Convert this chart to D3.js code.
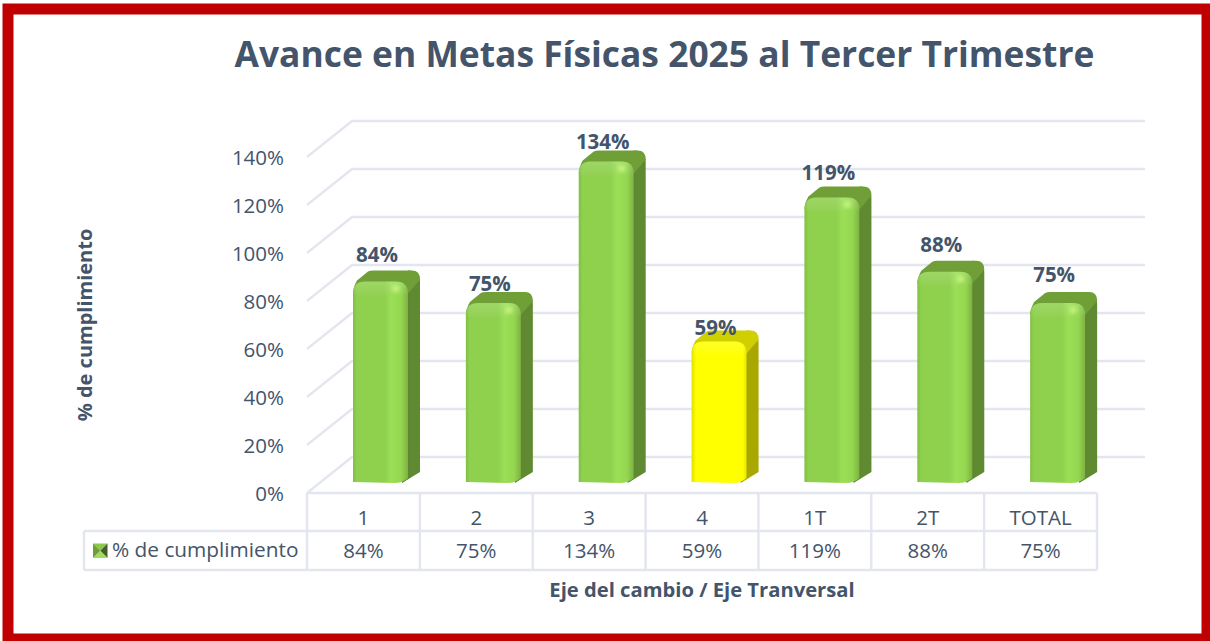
<!DOCTYPE html>
<html>
<head>
<meta charset="utf-8">
<script src="https://cdn.jsdelivr.net/npm/d3@7"></script>
<style>
html, body { margin: 0; padding: 0; background: #fff; }
svg { display: block; }
</style>
</head>
<body>
<svg id="chart" width="1210" height="641"></svg>
<script>
// datos
const categories = ["1", "2", "3", "4", "1T", "2T", "TOTAL"];
const values = [84, 75, 134, 59, 119, 88, 75];
const yTicks = [0, 20, 40, 60, 80, 100, 120, 140];
const seriesName = "% de cumplimiento";

// las etiquetas del original estan movidas a mano, una por barra
const labelGap = [19, 12, 12, 6, 17, 20, 21];

const textColor = "#44546a";
const gridColor = "#e3e6ee";
const red = "#c00000";

const svg = d3.select("#chart");
const defs = svg.append("defs");

function barGradient(id, stops) {
    const g = defs.append("linearGradient").attr("id", id);
    stops.forEach(s => g.append("stop").attr("offset", s[0]).attr("stop-color", s[1]));
}
barGradient("greenFront", [[0, "#80bf44"], [0.07, "#8fd04e"], [0.58, "#8fd04e"], [0.7, "#9bdf56"], [0.88, "#94d650"], [1, "#7db241"]]);
barGradient("yellowFront", [[0, "#e0e000"], [0.08, "#ffff00"], [0.93, "#ffff00"], [1, "#e6e600"]]);
barGradient("greenSide", [[0, "#527529"], [0.45, "#618a32"], [1, "#618a32"]]);
barGradient("yellowSide", [[0, "#969600"], [0.45, "#a8a800"], [1, "#a8a800"]]);

const band = defs.append("linearGradient").attr("id", "bevel").attr("x2", 0).attr("y2", 1);
band.append("stop").attr("offset", 0).attr("stop-color", "#fff").attr("stop-opacity", 0.14);
band.append("stop").attr("offset", 0.7).attr("stop-color", "#fff").attr("stop-opacity", 0.06);
band.append("stop").attr("offset", 1).attr("stop-color", "#fff").attr("stop-opacity", 0);

const glow = defs.append("radialGradient").attr("id", "glow");
glow.append("stop").attr("offset", 0).attr("stop-color", "#c4f27c");
glow.append("stop").attr("offset", 1).attr("stop-color", "#c4f27c").attr("stop-opacity", 0);

defs.append("filter").attr("id", "soft")
    .append("feGaussianBlur").attr("stdDeviation", 0.5);

// marco rojo
svg.append("rect")
    .attr("x", 8).attr("y", 9).attr("width", 1199).attr("height", 630)
    .attr("fill", "#fff").attr("stroke", red).attr("stroke-width", 11);

// Escalas: pared del fondo y plano frontal de las barras
const depth = {x: 45, y: -36};
const x = d3.scaleBand().domain(categories).range([307, 1097]);
const y = d3.scaleLinear().domain([0, 140]).range([493, 157]);
const barY = d3.scaleLinear().domain([0, 140]).range([483, 147]);

// Rejilla
const grid = svg.append("g")
    .attr("fill", "none").attr("stroke", gridColor).attr("stroke-width", 2.4);
yTicks.forEach(t => {
    grid.append("path")
        .attr("d", d3.line()([[x.range()[0], y(t)], [x.range()[0] + depth.x, y(t) + depth.y], [1145, y(t) + depth.y]]));
});

// Barras
const barW = 55, barOff = 46, sideW = 12, sideH = 11, r = 12;
const bars = svg.append("g").attr("filter", "url(#soft)").selectAll("g")
    .data(categories.map((c, i) => ({c: c, v: values[i]})))
    .join("g");

bars.each(function(d) {
    const g = d3.select(this);
    const x0 = x(d.c) + barOff, x1 = x0 + barW;
    const yt = barY(d.v), yb = barY(0);
    const yellow = d.v < 60;
    // lado derecho
    g.append("path")
        .attr("d", `M${x1 - 6},${yb} L${x1 + sideW},${yb - 11} L${x1 + sideW},${yt - sideH + r}
            Q${x1 + sideW},${yt - sideH} ${x1 + sideW - r},${yt - sideH} L${x1 - 6},${yt} Z`)
        .attr("fill", `url(#${yellow ? "yellowSide" : "greenSide"})`);
    // tapa
    g.append("path")
        .attr("d", `M${x0},${yt + r} Q${x0},${yt + 6} ${x0 + 4},${yt - 1} L${x0 + 15},${yt - sideH + 1}
            Q${x0 + 17},${yt - sideH} ${x0 + 20},${yt - sideH}
            L${x1 + sideW - 8},${yt - sideH} Q${x1 + sideW},${yt - sideH} ${x1 + sideW},${yt - sideH + 9}
            L${x1},${yt + r} Z`)
        .attr("fill", yellow ? "#d0d000" : "#6f9f38");
    // frente
    g.append("path")
        .attr("d", `M${x0},${yb - 1} L${x0},${yt + r} Q${x0},${yt} ${x0 + r},${yt}
            L${x1 - r},${yt} Q${x1},${yt} ${x1},${yt + r} L${x1},${yb - 5} Q${x1 - 5},${yb} ${x1 - 14},${yb} Z`)
        .attr("fill", `url(#${yellow ? "yellowFront" : "greenFront"})`);
    // bisel superior del frente
    g.append("path")
        .attr("d", `M${x0},${yt + 15} L${x0},${yt + r} Q${x0},${yt} ${x0 + r},${yt}
            L${x1 - r},${yt} Q${x1},${yt} ${x1},${yt + r} L${x1},${yt + 15} Z`)
        .attr("fill", "url(#bevel)");
    if (!yellow) {
        g.append("circle")
            .attr("cx", x0 + barW * 0.78).attr("cy", yt + 7).attr("r", 6)
            .attr("fill", "url(#glow)");
    }
});

// Etiquetas de datos
svg.append("g").selectAll("text")
    .data(values)
    .join("text")
    .attr("x", (d, i) => x(categories[i]) + barOff + 24)
    .attr("y", (d, i) => barY(d) - labelGap[i])
    .attr("text-anchor", "middle")
    .attr("font-family", "Open Sans")
    .attr("font-weight", 700)
    .attr("font-size", 20.5)
    .attr("fill", textColor)
    .text(d => d + "%");

// Eje Y
svg.append("g").selectAll("text")
    .data(yTicks)
    .join("text")
    .attr("x", 284)
    .attr("y", d => y(d) + 8)
    .attr("text-anchor", "end")
    .attr("font-family", "Open Sans")
    .attr("font-size", 20.5)
    .attr("fill", textColor)
    .text(d => d + "%");

// Tabla de datos
const table = svg.append("g")
    .attr("fill", "none").attr("stroke", gridColor).attr("stroke-width", 2.4);
const rowTop = 493, rowMid = 531, rowBottom = 570, tableLeft = 84;
table.append("path").attr("d", d3.line()([[x.range()[0], rowTop], [x.range()[1], rowTop]]));
table.append("path").attr("d", d3.line()([[tableLeft, rowMid], [x.range()[1], rowMid]]));
table.append("path").attr("d", d3.line()([[tableLeft, rowBottom], [x.range()[1], rowBottom]]));
table.append("path").attr("d", d3.line()([[tableLeft, rowMid], [tableLeft, rowBottom]]));
categories.concat([null]).forEach((c, i) => {
    const xx = c === null ? x.range()[1] : x(c);
    table.append("path").attr("d", d3.line()([[xx, rowTop], [xx, rowBottom]]));
});

const cellText = svg.append("g")
    .attr("text-anchor", "middle")
    .attr("font-family", "Open Sans")
    .attr("font-size", 20.5)
    .attr("fill", textColor);
categories.forEach((c, i) => {
    cellText.append("text")
        .attr("x", x(c) + x.bandwidth() / 2).attr("y", 525).text(c);
    cellText.append("text")
        .attr("x", x(c) + x.bandwidth() / 2).attr("y", 558).text(values[i] + "%");
});

// Clave de leyenda (cuadro biselado)
const kx = 93, ky = 543.5, ks = 14.5, kc = ks / 2;
svg.append("path").attr("d", `M${kx},${ky} L${kx + ks},${ky} L${kx + kc},${ky + kc} Z`).attr("fill", "#8cc84a");
svg.append("path").attr("d", `M${kx + ks},${ky} L${kx + ks},${ky + ks} L${kx + kc},${ky + kc} Z`).attr("fill", "#465f28");
svg.append("path").attr("d", `M${kx},${ky + ks} L${kx + ks},${ky + ks} L${kx + kc},${ky + kc} Z`).attr("fill", "#9fdc58");
svg.append("path").attr("d", `M${kx},${ky} L${kx},${ky + ks} L${kx + kc},${ky + kc} Z`).attr("fill", "#6e9e38");
svg.append("text")
    .attr("x", 112).attr("y", 557)
    .attr("font-family", "Open Sans")
    .attr("font-size", 20.8)
    .attr("fill", textColor)
    .text(seriesName);

// Titulos
svg.append("text")
    .attr("x", 664.5).attr("y", 67)
    .attr("text-anchor", "middle")
    .attr("font-family", "Open Sans")
    .attr("font-weight", 700)
    .attr("font-size", 35.4)
    .attr("fill", textColor)
    .text("Avance en Metas Físicas 2025 al Tercer Trimestre");

svg.append("text")
    .attr("x", 702).attr("y", 597)
    .attr("text-anchor", "middle")
    .attr("font-family", "Open Sans")
    .attr("font-weight", 700)
    .attr("font-size", 20.2)
    .attr("fill", textColor)
    .text("Eje del cambio / Eje Tranversal");

svg.append("text")
    .attr("transform", "translate(92,325) rotate(-90)")
    .attr("text-anchor", "middle")
    .attr("font-family", "Open Sans")
    .attr("font-weight", 700)
    .attr("font-size", 20)
    .attr("fill", textColor)
    .text("% de cumplimiento");
</script>
</body>
</html>
